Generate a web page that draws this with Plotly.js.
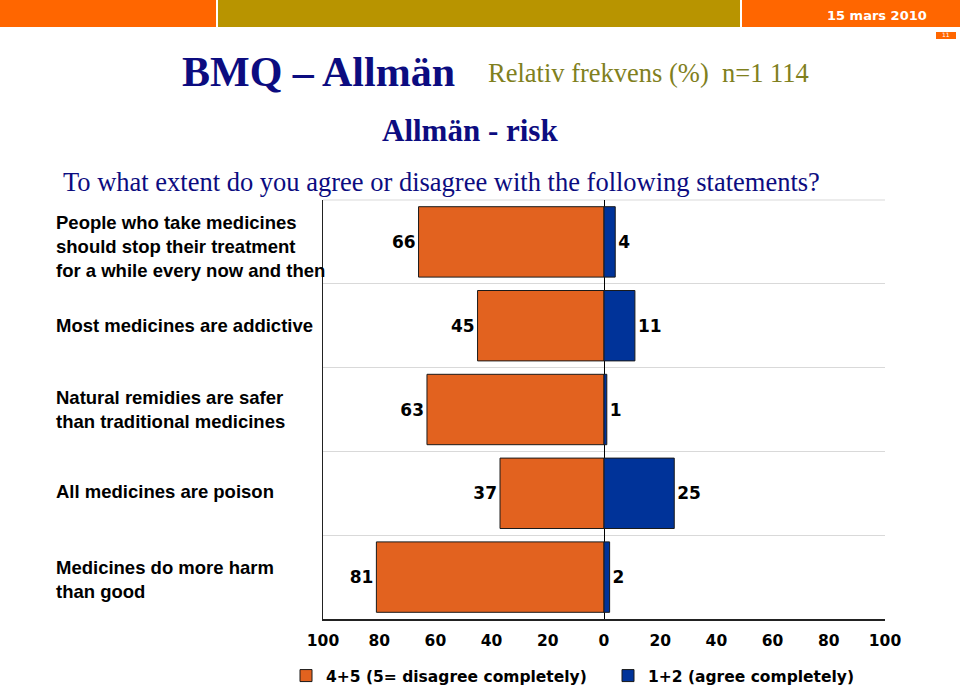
<!DOCTYPE html>
<html><head><meta charset="utf-8">
<script src="https://cdn.plot.ly/plotly-3.0.1.min.js"></script>
<style>html,body{margin:0;padding:0;background:#fff}#chart{width:960px;height:688px}</style>
</head><body><div id="chart"></div>
<script>
// ---- data ----
const statements = [
  "People who take medicines<br>should stop their treatment<br>for a while every now and then",
  "Most medicines are addictive",
  "Natural remidies are safer<br>than traditional medicines",
  "All medicines are poison",
  "Medicines do more harm<br>than good"
];
const disagree = [66, 45, 63, 37, 81];   // 4+5
const agree = [4, 11, 1, 25, 2];         // 1+2
const tickValues = [-100, -80, -60, -40, -20, 0, 20, 40, 60, 80, 100];
const tickLabels = ["100", "80", "60", "40", "20", "0", "20", "40", "60", "80", "100"];
const seriesNames = ["4+5 (5= disagree completely)", "1+2 (agree completely)"];
const mainTitle = "BMQ – Allmän";
const subTitle = "Relativ frekvens (%)\u00a0\u00a0n=1 114";
const chartTitle = "Allmän - risk";
const question = "To what extent do you agree or disagree with the following statements?";
const dateText = "15 mars 2010";
const pageNo = "11";

// ---- geometry helpers (pixel -> paper) ----
const L = 323, R = 885, T = 200, B = 619;
const px = v => (v - L) / (R - L);
const py = v => (B - v) / (B - T);

const navy = "#0c0c80";
const serif = "Liberation Serif, Times New Roman, serif";
const verd = "DejaVu Sans, Verdana, sans-serif";

const traces = [
  {
    type: "bar", orientation: "h", name: seriesNames[0],
    y: statements, x: disagree.map(v => -v),
    text: disagree.map(String), textposition: "outside", cliponaxis: false,
    textfont: {family: verd, size: 17, color: "#000", weight: "bold"},
    marker: {color: "#E2621F", line: {color: "#1a1a1a", width: 1}},
    hoverinfo: "skip"
  },
  {
    type: "bar", orientation: "h", name: seriesNames[1],
    y: statements, x: agree,
    text: agree.map(String), textposition: "outside", cliponaxis: false,
    textfont: {family: verd, size: 17, color: "#000", weight: "bold"},
    marker: {color: "#003399", line: {color: "#1a1a1a", width: 1}},
    hoverinfo: "skip"
  }
];

const annotations = [
  {text: "<b>" + mainTitle + "</b>", x: px(180), y: py(72), xanchor: "left", yanchor: "middle",
   font: {family: serif, size: 42, color: navy}},
  {text: subTitle, x: px(486), y: py(73), xanchor: "left", yanchor: "middle",
   font: {family: serif, size: 26.5, color: "#80801e"}},
  {text: "<b>" + chartTitle + "</b>", x: px(470), y: py(130), xanchor: "center", yanchor: "middle",
   font: {family: serif, size: 31, color: navy}},
  {text: question, x: px(61), y: py(182), xanchor: "left", yanchor: "middle",
   font: {family: serif, size: 26.5, color: navy}},
  {text: "<b>" + dateText + "</b>", x: px(929), y: py(15), xanchor: "right", yanchor: "middle",
   font: {family: verd, size: 13, color: "#ffffff"}},
  {text: pageNo, x: px(946), y: py(35), xanchor: "center", yanchor: "middle",
   font: {family: verd, size: 6, color: "#ffffff"}}
].map(a => Object.assign({xref: "paper", yref: "paper", showarrow: false}, a));

const labelShift = [-5, 0, 0, 2, -2];
statements.forEach((s, i) => {
  annotations.push({
    text: "<b>" + s + "</b>", xref: "paper", yref: "y", x: px(54), y: i, yshift: labelShift[i],
    xanchor: "left", yanchor: "middle", align: "left", showarrow: false,
    font: {family: "Liberation Sans, Arial, sans-serif", size: 18.5, color: "#000"}
  });
});

const rect = (x0, y0, x1, y1, color) => ({
  type: "rect", xref: "paper", yref: "paper", x0: px(x0), x1: px(x1), y0: py(y0), y1: py(y1),
  fillcolor: color, line: {width: 0}, layer: "above"
});
const shapes = [
  rect(0, 0, 216, 27, "#FF6600"),
  rect(218, 0, 740, 27, "#B89400"),
  rect(742, 0, 960, 27, "#FF6600"),
  rect(936, 32, 956, 39, "#FF6600"),
  {type: "line", xref: "paper", yref: "paper", x0: 0, x1: 1, y0: 1, y1: 1,
   line: {color: "#d9d9d9", width: 1}, layer: "below"}
];

const layout = {
  width: 960, height: 688,
  margin: {l: L, r: 960 - R, t: T, b: 688 - B, autoexpand: false},
  paper_bgcolor: "#fff", plot_bgcolor: "#fff",
  barmode: "relative", bargap: 0.16,
  showlegend: true,
  legend: {orientation: "h", x: px(286), y: py(659), xanchor: "left", yanchor: "top",
           entrywidth: 277,
           font: {family: verd, size: 15.5, color: "#000", weight: "bold"}, traceorder: "normal"},
  xaxis: {range: [-100, 100], tickmode: "array", tickvals: tickValues, ticktext: tickLabels,
          showgrid: false, zeroline: true, zerolinecolor: "#000", zerolinewidth: 1,
          showline: true, linecolor: "#222", linewidth: 1.5, ticks: "", ticklabelstandoff: 7,
          tickfont: {family: verd, size: 15.5, color: "#000", weight: "bold"}, fixedrange: true},
  yaxis: {type: "category", range: [4.5, -0.5], autorange: false, tickson: "boundaries",
          showgrid: true, gridcolor: "#d9d9d9", gridwidth: 1, showticklabels: false, ticks: "",
          showline: true, linecolor: "#222", linewidth: 1.5, zeroline: false, fixedrange: true},
  annotations: annotations,
  shapes: shapes
};

Plotly.newPlot("chart", traces, layout, {staticPlot: true, displayModeBar: false});
</script>
</body></html>
